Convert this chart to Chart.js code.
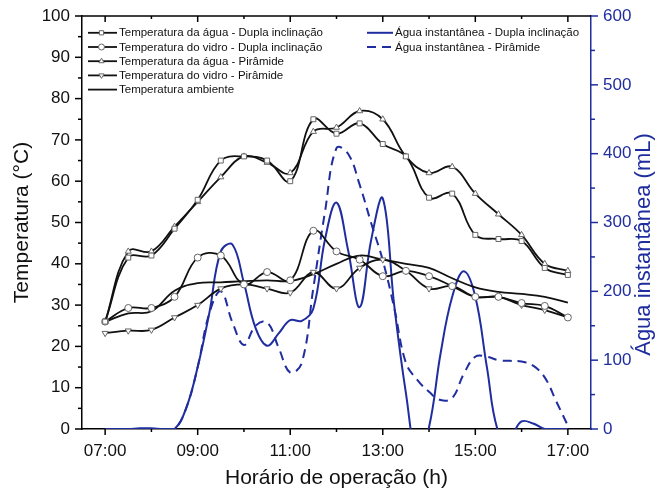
<!DOCTYPE html>
<html>
<head>
<meta charset="utf-8">
<script src="https://cdn.jsdelivr.net/npm/chart.js@4.4.1/dist/chart.umd.min.js"></script>
<style>
  html, body { margin: 0; padding: 0; background: #fff; }
  #wrap { width: 658px; height: 495px; }
</style>
</head>
<body>
<div id="wrap"><canvas id="grafico"></canvas></div>
<script>
// --- dados ---
const horas = [7, 7.5, 8, 8.5, 9, 9.5, 10, 10.5, 11, 11.5, 12, 12.5, 13, 13.5, 14, 14.5, 15, 15.5, 16, 16.5, 17];

const aguaDupla     = [26, 41.5, 42, 48.5, 55.5, 65, 66, 65, 60, 75, 71.5, 74, 69, 66, 56, 57, 47, 46, 45.5, 39, 37.3];
const vidroDupla    = [26, 29.3, 29.3, 32, 41.5, 42, 35, 38, 36, 48, 43, 41, 37, 38.3, 37, 34.6, 32, 32, 30.5, 29.8, 27];
const aguaPiramide  = [26, 43, 43, 49, 55, 61, 66, 64.5, 62, 72, 73, 77, 75, 66, 62, 63.5, 57, 52, 47, 40, 38.3];
const vidroPiramide = [23.2, 23.8, 24, 27, 30, 34, 35, 34, 33, 38, 34, 39, 41, 38.3, 34, 34.6, 32, 32, 30, 28.8, 27];
const ambiente      = [26, 28, 28.5, 33.5, 35.3, 35.5, 35.8, 36, 35.8, 37.5, 40, 42, 41, 40, 39, 36.5, 34.3, 33.2, 32.7, 32, 30.6];

const horasAgua = [7, 7.25, 7.5, 7.75, 8, 8.25, 8.5, 8.75, 9, 9.25, 9.5, 9.75, 10, 10.25, 10.5, 10.75,
                   11, 11.25, 11.5, 11.75, 12, 12.25, 12.5, 12.75, 13, 13.25, 13.5, 13.75, 14, 14.25, 14.5, 14.75,
                   15, 15.25, 15.5, 15.75, 16, 16.25, 16.5, 16.75, 17];
const instDupla    = [0, 0, 0, 1, 1, 0, 0, 30, 90, 168, 258, 268, 212, 147, 121, 139,
                      158, 157, 175, 275, 329, 260, 177, 275, 335, 178, 52, -40, 3, 110, 192, 229,
                      192, 90, -5, -10, 11, 8, 0, 0, 0];
const instPiramide = [0, 0, 0, 0, 0, 0, 0, 30, 90, 168, 200, 155, 122, 150, 155, 118,
                      82, 96, 205, 315, 408, 400, 355, 299, 245, 175, 96, 71, 54, 42, 45, 80,
                      105, 105, 100, 99, 98, 92, 75, 40, 5];

const ticksX = [7, 9, 11, 13, 15, 17];
const ticksT = [0, 10, 20, 30, 40, 50, 60, 70, 80, 90, 100];
const ticksA = [0, 100, 200, 300, 400, 500, 600];

const AZUL = '#1f2d9e';
const FONTE = "'Liberation Sans', Arial, sans-serif";

const pares = (xs, ys) => xs.map((x, i) => ({ x: x, y: ys[i] }));

function serieTemp(label, valores, estilo, rot) {
    return {
        label: label,
        data: pares(horas, valores),
        yAxisID: 'y',
        borderColor: '#111',
        borderWidth: 1.8,
        tension: 0.4,
        pointStyle: estilo,
        pointRotation: rot || 0,
        pointRadius: estilo ? 3.5 : 0,
        pointBackgroundColor: '#fff',
        pointBorderColor: '#666',
        pointBorderWidth: 1
    };
}

const datasets = [
    serieTemp('Temperatura da água - Dupla inclinação', aguaDupla, 'rect'),
    serieTemp('Temperatura do vidro - Dupla inclinação', vidroDupla, 'circle'),
    serieTemp('Temperatura da água - Pirâmide', aguaPiramide, 'triangle'),
    serieTemp('Temperatura do vidro - Pirâmide', vidroPiramide, 'triangle', 180),
    serieTemp('Temperatura ambiente', ambiente, false),
    {
        label: 'Água instantânea - Dupla inclinação',
        data: pares(horasAgua, instDupla),
        yAxisID: 'y1',
        borderColor: AZUL,
        borderWidth: 2,
        tension: 0.4,
        pointRadius: 0
    },
    {
        label: 'Água instantânea - Pirâmide',
        data: pares(horasAgua, instPiramide),
        yAxisID: 'y1',
        borderColor: AZUL,
        borderWidth: 2,
        borderDash: [9, 6],
        tension: 0.4,
        pointRadius: 0
    }
];

// ticks maiores/menores, borda superior, título da direita e legenda
const moldura = {
    id: 'moldura',
    afterDraw(chart) {
        const { ctx, chartArea: a, scales } = chart;
        const { x, y, y1 } = scales;
        const traco = (x0, y0, x1, y1_, cor) => {
            ctx.strokeStyle = cor;
            ctx.beginPath(); ctx.moveTo(x0, y0); ctx.lineTo(x1, y1_); ctx.stroke();
        };
        ctx.save();
        ctx.lineWidth = 1.5;
        ctx.setLineDash([]);
        traco(a.left, a.top, a.right, a.top, '#000');

        for (let h = 7; h <= 17; h++) {
            const px = x.getPixelForValue(h);
            const maior = ticksX.includes(h);
            traco(px, a.bottom, px, a.bottom + (maior ? 6 : 3), '#000');
            traco(px, a.top, px, a.top + (maior ? 6 : 3), '#000');
        }
        for (let t = 0; t <= 100; t += 5) {
            const py = y.getPixelForValue(t);
            traco(a.left, py, a.left - (t % 10 === 0 ? 7 : 4), py, '#000');
        }
        for (let v = 0; v <= 600; v += 50) {
            const py = y1.getPixelForValue(v);
            traco(a.right, py, a.right + (v % 100 === 0 ? 7 : 4), py, AZUL);
        }

        // título do eixo direito (lido de baixo para cima)
        ctx.save();
        ctx.translate(644, (a.top + a.bottom) / 2 + 22);
        ctx.rotate(-Math.PI / 2);
        ctx.fillStyle = AZUL;
        ctx.font = '22px ' + FONTE;
        ctx.textAlign = 'center';
        ctx.textBaseline = 'middle';
        ctx.fillText('Água instantânea (mL)', 0, 0);
        ctx.restore();

        // legenda em duas colunas
        ctx.font = '11.5px ' + FONTE;
        ctx.textBaseline = 'middle';
        ctx.textAlign = 'left';
        const colunas = [
            { x0: 88, x1: 117, itens: [0, 1, 2, 3, 4] },
            { x0: 367, x1: 393, itens: [5, 6] }
        ];
        colunas.forEach(col => {
            col.itens.forEach((idx, k) => {
                const ds = chart.data.datasets[idx];
                const ly = 32.8 + k * 14.2;
                ctx.lineWidth = ds.borderWidth;
                ctx.setLineDash(ds.borderDash || []);
                traco(col.x0, ly, col.x1, ly, ds.borderColor);
                ctx.setLineDash([]);
                if (ds.pointStyle) {
                    ctx.fillStyle = '#fff';
                    ctx.strokeStyle = '#666';
                    ctx.lineWidth = 1;
                    Chart.helpers.drawPoint(ctx, {
                        pointStyle: ds.pointStyle, rotation: ds.pointRotation,
                        radius: 3, borderWidth: 1
                    }, (col.x0 + col.x1) / 2 - 1, ly);
                }
                ctx.fillStyle = '#111';
                ctx.fillText(ds.label, col.x1 + 2, ly + 0.5);
            });
        });
        ctx.restore();
    }
};

const ctxGrafico = document.getElementById('grafico').getContext('2d');
new Chart(ctxGrafico, {
    type: 'line',
    data: { datasets: datasets },
    options: {
        responsive: true,
        maintainAspectRatio: false,
        animation: false,
        layout: { padding: { top: 16, left: 0, right: 0, bottom: 0 } },
        plugins: { legend: { display: false }, tooltip: { enabled: false } },
        scales: {
            x: {
                type: 'linear',
                min: 6.5, max: 17.5,
                afterBuildTicks: s => { s.ticks = ticksX.map(v => ({ value: v })); },
                afterFit: s => { s.height = 66; },
                grid: { display: false, drawTicks: true, tickLength: 6 },
                border: { display: true, color: '#000', width: 1.5 },
                ticks: {
                    color: '#111', padding: 6, maxRotation: 0,
                    font: { family: FONTE, size: 17 },
                    callback: v => (v < 10 ? '0' : '') + v + ':00'
                },
                title: {
                    display: true, text: 'Horário de operação (h)', color: '#111',
                    font: { family: FONTE, size: 21 }, padding: { top: 0, bottom: 4 }
                }
            },
            y: {
                position: 'left',
                min: 0, max: 100,
                afterBuildTicks: s => { s.ticks = ticksT.map(v => ({ value: v })); },
                afterFit: s => { s.width = 82; },
                grid: { display: false, drawTicks: true, tickLength: 7 },
                border: { display: true, color: '#000', width: 1.5 },
                ticks: { color: '#111', padding: 5, font: { family: FONTE, size: 17 } },
                title: {
                    display: true, text: 'Temperatura (°C)', color: '#111',
                    font: { family: FONTE, size: 21 }, padding: { top: 10, bottom: 0 }
                }
            },
            y1: {
                position: 'right',
                min: 0, max: 600,
                afterBuildTicks: s => { s.ticks = ticksA.map(v => ({ value: v })); },
                afterFit: s => { s.width = 67; },
                grid: { display: false, drawTicks: true, tickLength: 7 },
                border: { display: true, color: AZUL, width: 1.5 },
                ticks: { color: AZUL, padding: 5, font: { family: FONTE, size: 17 } }
            }
        }
    },
    plugins: [moldura]
});
</script>
</body>
</html>
